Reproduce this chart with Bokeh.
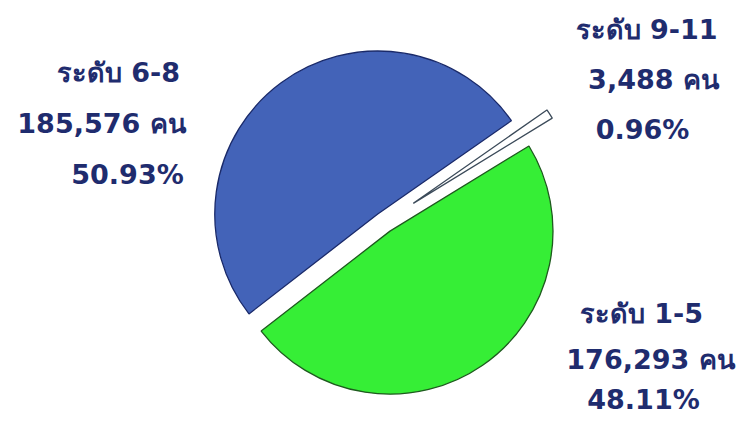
import numpy as np
from bokeh.plotting import figure
from bokeh.models import Range1d, ColumnDataSource
from bokeh.core.properties import value
from bokeh.embed import file_html
from bokeh.resources import INLINE

# ---- data ----
levels = ["ระดับ 1-5", "ระดับ 6-8", "ระดับ 9-11"]
counts = [176293, 185576, 3488]
percents = ["48.11%", "50.93%", "0.96%"]

# ---- styles / layout ----
fills = ["#36EE36", "#4363B8", "#FFFFFF"]
edges = ["#1E5A1E", "#1A2A6A", "#3C4B5A"]
explode = [10.5, 10.5, 35]
# label line centres (screen pixels) for each slice: name, count, percent
label_pos = [
    [(641, 313), (650, 359), (643, 399)],
    [(118, 72), (101, 123), (127, 174)],
    [(646, 29), (653, 79), (642, 129)],
]

W, H = 755, 431
FW, FH = 739, 415
p = figure(width=FW, height=FH, x_range=Range1d(0, FW), y_range=Range1d(H - FH, H),
           output_backend="svg", toolbar_location=None, min_border=0)
p.axis.visible = False
p.grid.visible = False
p.outline_line_color = None
p.background_fill_color = "white"
p.border_fill_color = "white"

total = float(sum(counts))
cx, cy = 383.5, H - 222
r = 163
a = np.radians(31.5)
for i in [2, 1, 0]:
    sweep = 2 * np.pi * counts[i] / total
    start, end = a, a + sweep
    mid = (start + end) / 2
    x0 = cx + explode[i] * np.cos(mid)
    y0 = cy + explode[i] * np.sin(mid)
    p.wedge(x=[x0], y=[y0], radius=r, start_angle=start, end_angle=end,
            direction="anticlock", fill_color=fills[i], line_color=edges[i],
            line_width=1.3)
    a = end

tx, ty, tt = [], [], []
for i in range(3):
    lines = [levels[i], f"{counts[i]:,} คน", percents[i]]
    for (x, y), t in zip(label_pos[i], lines):
        tx.append(x)
        ty.append(H - y)
        tt.append(t)

src = ColumnDataSource(dict(x=tx, y=ty, text=tt))
p.text(x="x", y="y", text="text", source=src, text_font=value("DejaVu Sans"),
       text_font_style="bold", text_font_size="27px", text_color="#1F2C6E",
       text_align="center", text_baseline="middle")

open("out.html", "w").write(file_html(p, INLINE))
